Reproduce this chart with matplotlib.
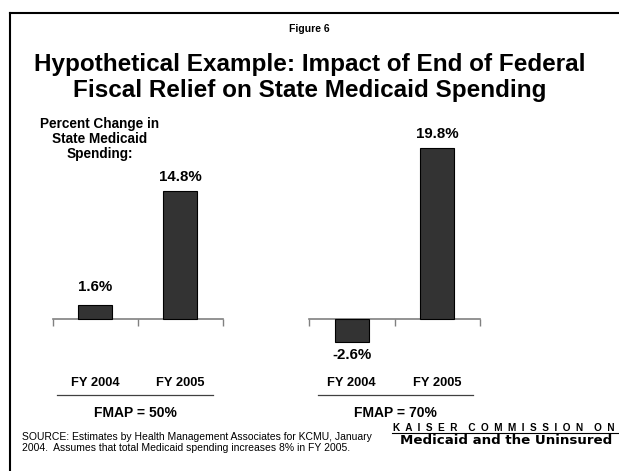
import matplotlib
matplotlib.use("Agg")
import matplotlib.pyplot as plt
from matplotlib.lines import Line2D
import matplotlib.transforms as mtransforms

plt.rcParams['font.family'] = ['Liberation Sans', 'DejaVu Sans']

categories = ["FY 2004", "FY 2005"]
fmap_50 = [1.6, 14.8]
fmap_70 = [-2.6, 19.8]
panel_labels = ["FMAP = 50%", "FMAP = 70%"]
value_labels_50 = ["1.6%", "14.8%"]
value_labels_70 = ["-2.6%", "19.8%"]

W, H = 619, 471
fig = plt.figure(figsize=(W / 100, H / 100), dpi=100)

def fx(px):
    return px / W

def fy(py):
    return 1 - py / H

# border
fig.add_artist(Line2D([fx(9.5), fx(9.5)], [0, fy(12.5)], color='black', lw=1.5, transform=fig.transFigure))
fig.add_artist(Line2D([fx(9.5), 1], [fy(12.5), fy(12.5)], color='black', lw=1.5, transform=fig.transFigure))

fig.text(0.5, fy(29), "Figure 6", ha='center', va='center', fontsize=7.5, fontweight='bold')
fig.text(0.5, fy(65), "Hypothetical Example: Impact of End of Federal", ha='center', va='center',
         fontsize=17.5, fontweight='bold')
fig.text(0.5, fy(91), "Fiscal Relief on State Medicaid Spending", ha='center', va='center',
         fontsize=17.5, fontweight='bold')

fig.text(fx(100), fy(139), "Percent Change in\nState Medicaid\nSpending:", ha='center', va='center',
         fontsize=9.8, fontweight='bold', linespacing=1.1)

ax_top, ax_bot = 120, 345
ylim = (-3.0, 23.0)

panels = [
    (52.7, 222.7, fmap_50, value_labels_50, panel_labels[0], (57, 213)),
    (309, 480, fmap_70, value_labels_70, panel_labels[1], (318, 473)),
]

for left, right, vals, vlabels, plabel, (ul0, ul1) in panels:
    ax = fig.add_axes([fx(left), fy(ax_bot), fx(right - left), (ax_bot - ax_top) / H])
    x = list(range(len(categories)))
    ax.bar(x, vals, width=0.4, color='#333333', edgecolor='black', linewidth=0.8, zorder=3)
    ax.set_xlim(-0.5, 1.5)
    ax.set_ylim(*ylim)
    for s in ['left', 'right', 'top']:
        ax.spines[s].set_visible(False)
    ax.spines['bottom'].set_position(('data', 0))
    ax.spines['bottom'].set_color('#808080')
    ax.spines['bottom'].set_linewidth(1.2)
    ax.set_yticks([])
    ax.set_xticks([-0.5, 0.5, 1.5])
    ax.tick_params(axis='x', direction='out', length=5, width=1, color='#808080', labelbottom=False)
    ax.patch.set_alpha(0)
    for xi, v, lab in zip(x, vals, vlabels):
        if v < 0:
            off = -9.5
        elif v < 2:
            off = 13
        else:
            off = 10
        ax.annotate(lab, (xi, v), xytext=(0, off), textcoords='offset points',
                    ha='center', va='center', fontsize=10.8, fontweight='bold')
    trans = mtransforms.blended_transform_factory(ax.transData, fig.transFigure)
    for xi, cat in zip(x, categories):
        ax.text(xi, fy(383), cat, transform=trans, ha='center', va='center',
                fontsize=9.3, fontweight='bold')
    fig.add_artist(Line2D([fx(ul0), fx(ul1)], [fy(395), fy(395)], color='#404040', lw=0.9,
                          transform=fig.transFigure))
    fig.text(fx((ul0 + ul1) / 2), fy(413), plabel, ha='center', va='center', fontsize=10, fontweight='bold')

fig.text(fx(22), fy(437), "SOURCE: Estimates by Health Management Associates for KCMU, January",
         ha='left', va='center', fontsize=7.5)
fig.text(fx(22), fy(448), "2004.  Assumes that total Medicaid spending increases 8% in FY 2005.",
         ha='left', va='center', fontsize=7.5)

fig.text(fx(393), fy(428), "K  A  I  S  E  R    C  O  M  M  I  S  S  I  O  N    O  N", ha='left', va='center',
         fontsize=7.2, fontweight='bold')
fig.add_artist(Line2D([fx(392), 1], [fy(433), fy(433)], color='black', lw=0.8, transform=fig.transFigure))
fig.text(fx(400), fy(441), "Medicaid and the Uninsured", ha='left', va='center',
         fontsize=9.6, fontweight='heavy', family=['DejaVu Sans'])

fig.savefig("out.png", dpi=100)
